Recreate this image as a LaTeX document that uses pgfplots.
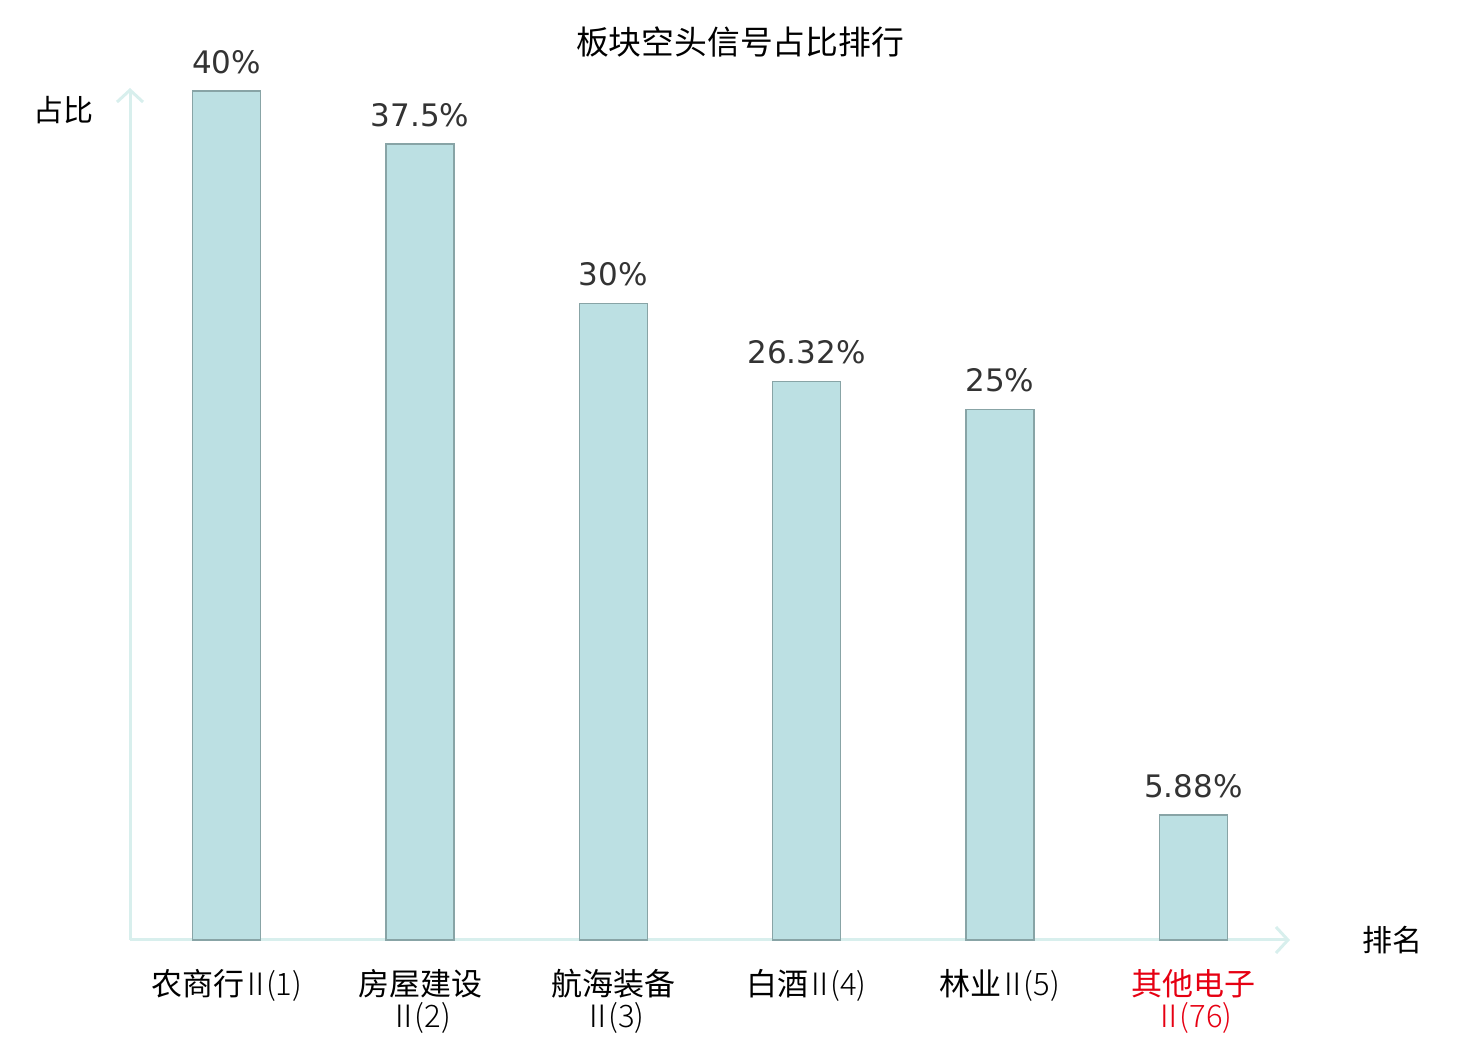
\documentclass[border=0pt]{standalone}
\usepackage{pgfplots}
\pgfplotsset{compat=1.18}
\usetikzlibrary{arrows.meta}
\usepackage{fontspec}
\setmainfont{DejaVu Sans}
\newfontfamily\cjk{Noto Sans CJK SC}
\newfontfamily\cjkl{Noto Sans CJK SC Light}
\newcommand{\nm}[1]{{\cjkl\kern-2pt Ⅱ\kern-2.5pt(#1)}}
\newcommand{\nmb}[1]{{\cjkl Ⅱ\kern-2.5pt(#1)}}
\definecolor{barfill}{HTML}{BCE0E3}
\definecolor{bardraw}{HTML}{88A4A6}
\definecolor{axcol}{HTML}{D8EFED}
\definecolor{valcol}{HTML}{333333}
\definecolor{hl}{HTML}{E60012}
\begin{document}
\begin{tikzpicture}[x=1pt,y=1pt]
\useasboundingbox (0,0) rectangle (740,520);
\begin{axis}[
  at={(65pt,50pt)}, anchor=south west,
  width=580pt, height=426pt, scale only axis,
  xmin=-0.5, xmax=5.5, ymin=0, ymax=40.15,
  axis lines=left,
  axis line style={axcol, line width=1.5pt, -{Straight Barb[length=6pt,width=13pt,line width=1.5pt]}},
  ytick=\empty,
  xtick={0,1,2,3,4,5},
  major tick length=0pt,
  xticklabels={{农商行\nm{1}},{房屋建设\\\nmb{2}},{航海装备\\\nmb{3}},{白酒\nm{4}},{林业\nm{5}},{\color{hl}其他电子\\\color{hl}\nmb{76}}},
  xticklabel style={font=\cjk\fontsize{15.5}{16}\selectfont, align=center, anchor=north, yshift=-11pt, text=black},
  clip=false,
  ybar, bar width=34pt,
  point meta=explicit symbolic,
  nodes near coords,
  nodes near coords style={font=\fontsize{15.5}{18}\selectfont, text=valcol, anchor=base, inner sep=0pt, yshift=9pt},
]
\addplot[fill=barfill, draw=bardraw, line width=0.75pt] coordinates {
  (0,40) [40\%]
  (1,37.5) [37.5\%]
  (2,30) [30\%]
  (3,26.32) [26.32\%]
  (4,25) [25\%]
  (5,5.88) [5.88\%]
};
\end{axis}
\node[font=\cjk\fontsize{16.4}{20}\selectfont, text=black] at (370,499) {板块空头信号占比排行};
\node[font=\cjk\fontsize{15}{18}\selectfont, text=black] at (31.5,465) {占比};
\node[font=\cjk\fontsize{15}{18}\selectfont, text=black] at (696,50) {排名};
\end{tikzpicture}
\end{document}
